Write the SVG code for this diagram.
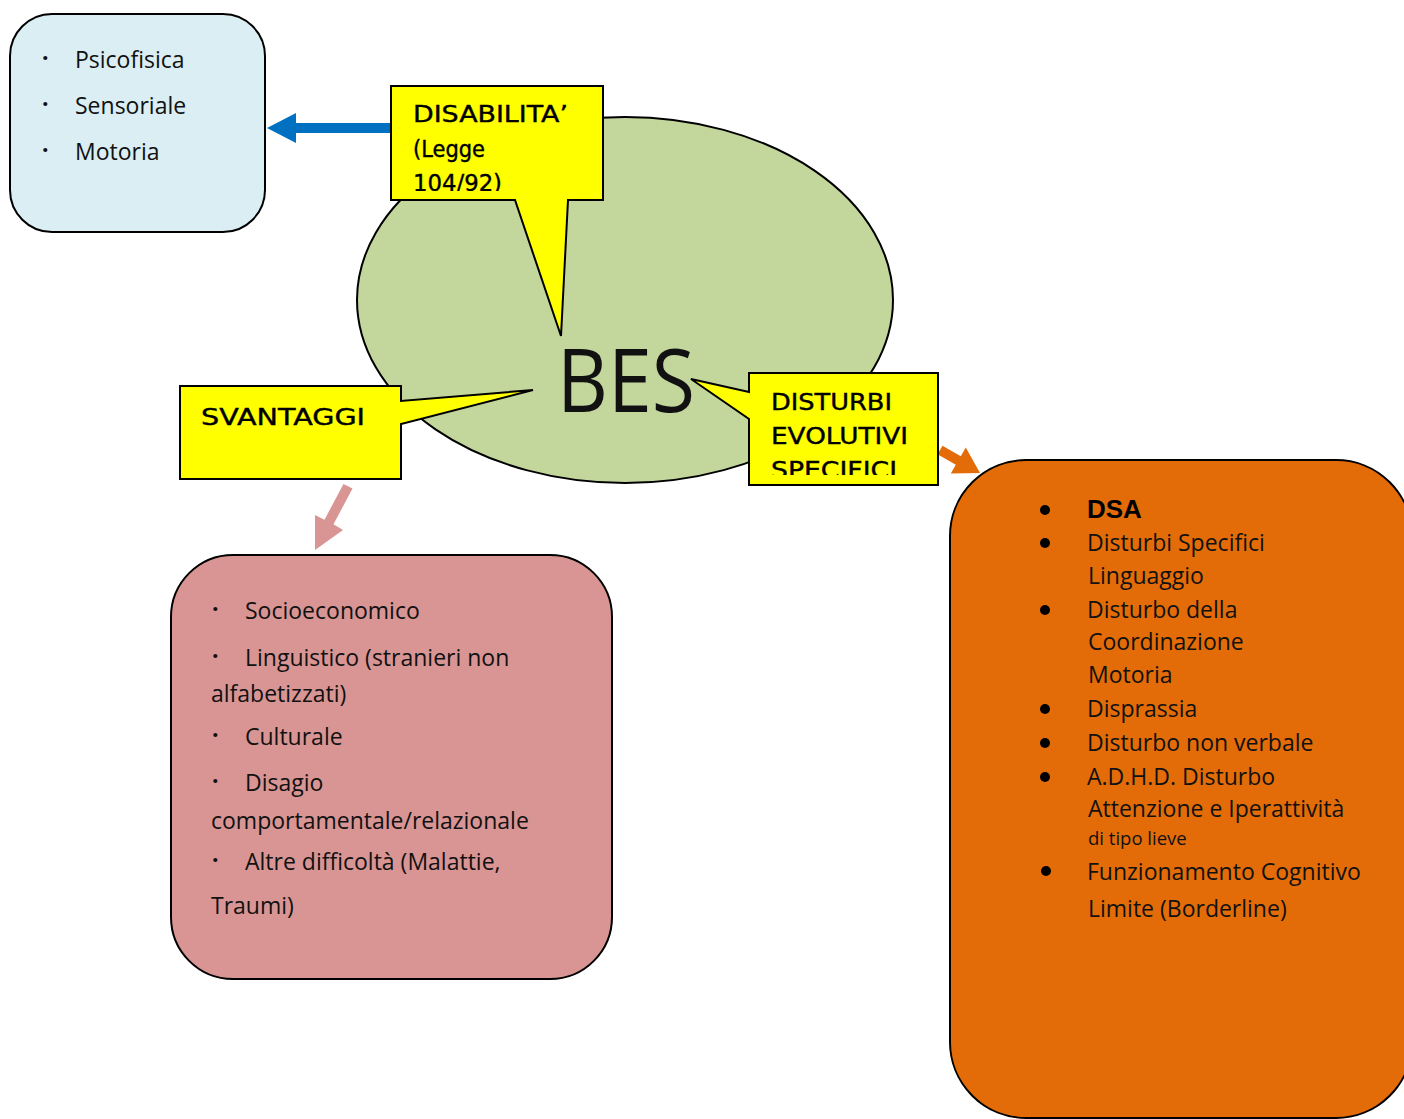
<svg xmlns="http://www.w3.org/2000/svg" width="1404" height="1119" viewBox="0 0 1404 1119">
<style>
.box{stroke:#000;stroke-width:2}
.txt{font-family:"Open Sans","Noto Sans","Liberation Sans",sans-serif;font-size:23px;fill:#111}
.small{font-size:18.5px}
.dot{font-family:"Open Sans","Noto Sans",sans-serif;font-size:23px;font-weight:bold;fill:#111}
.call{font-family:"DejaVu Sans","Liberation Sans",sans-serif;font-size:23px;fill:#000;stroke:#000;stroke-width:0.4}
.cal{fill:#FFFF00;stroke:#000;stroke-width:2;stroke-linejoin:miter}
</style>
<defs>
<clipPath id="clipDis"><rect x="392" y="87" width="210" height="104"/></clipPath>
<clipPath id="clipDse"><rect x="750" y="374" width="187" height="101"/></clipPath>
</defs>
<rect width="1404" height="1119" fill="#fff"/>

<g id="connectors">
<polygon points="391,123 296,123 296,113 267,128 296,143 296,133 391,133" fill="#0070C0"/>
<polygon points="343.5,484 352.5,488.5 333.5,524.3 343,530 315,550 315,515 324.5,519.7" fill="#D99594"/>
<polygon points="942.5,445.7 960.8,456.2 965.8,447.5 980,473 950.8,473.5 955.8,464.8 937.5,454.3" fill="#E36C09"/>
</g>

<g id="node-fisica">
<rect class="box" x="10" y="14" width="255" height="218" rx="42" fill="#DAEEF3"/>
<text class="dot" x="42" y="66">·</text><text class="txt" x="75" y="68">Psicofisica</text>
<text class="dot" x="42" y="112">·</text><text class="txt" x="75" y="114">Sensoriale</text>
<text class="dot" x="42" y="158">·</text><text class="txt" x="75" y="160">Motoria</text>
</g>

<g id="node-bes">
<ellipse cx="625" cy="300" rx="268" ry="183" fill="#C3D69B" stroke="#000" stroke-width="2"/>
<text x="557" y="412" font-family="'Open Sans','Noto Sans',sans-serif" font-size="87" textLength="138" lengthAdjust="spacingAndGlyphs" fill="#111">BES</text>
</g>

<g id="node-disabilita">
<path class="cal" d="M391,86 H603 V200 H568 L561,336 L515,200 H391 Z"/>
<g clip-path="url(#clipDis)">
<text class="call" x="413" y="122" textLength="155" lengthAdjust="spacingAndGlyphs">DISABILITA’</text>
<text class="call" x="413" y="157" textLength="72" lengthAdjust="spacingAndGlyphs">(Legge</text>
<text class="call" x="413" y="191" textLength="89" lengthAdjust="spacingAndGlyphs">104/92)</text>
</g>
</g>

<g id="node-svantaggi">
<path class="cal" d="M180,386 H401 V401 L533,390 L401,424 V479 H180 Z"/>
<text class="call" x="201" y="425" textLength="164" lengthAdjust="spacingAndGlyphs">SVANTAGGI</text>
</g>

<g id="node-dse">
<path class="cal" d="M749,373 H938 V485 H749 V419 L691,379 L749,392 Z"/>
<g clip-path="url(#clipDse)">
<text class="call" x="771" y="410" textLength="121" lengthAdjust="spacingAndGlyphs">DISTURBI</text>
<text class="call" x="771" y="444" textLength="137" lengthAdjust="spacingAndGlyphs">EVOLUTIVI</text>
<text class="call" x="771" y="478" textLength="126" lengthAdjust="spacingAndGlyphs">SPECIFICI</text>
</g>
</g>

<g id="node-svantaggi-list">
<rect class="box" x="171" y="555" width="441" height="424" rx="62" fill="#D99594"/>
<text class="dot" x="212" y="617">·</text><text class="txt" x="245" y="619">Socioeconomico</text>
<text class="dot" x="212" y="664">·</text><text class="txt" x="245" y="666">Linguistico (stranieri non</text>
<text class="txt" x="211" y="702">alfabetizzati)</text>
<text class="dot" x="212" y="743">·</text><text class="txt" x="245" y="745">Culturale</text>
<text class="dot" x="212" y="789">·</text><text class="txt" x="245" y="791">Disagio</text>
<text class="txt" x="211" y="829">comportamentale/relazionale</text>
<text class="dot" x="212" y="868">·</text><text class="txt" x="245" y="870">Altre difficoltà (Malattie,</text>
<text class="txt" x="211" y="914">Traumi)</text>
</g>

<g id="node-dse-list">
<rect class="box" x="950" y="460" width="462" height="658" rx="76" fill="#E36C09"/>
<g fill="#000">
<circle cx="1045" cy="510" r="5"/><circle cx="1045" cy="543" r="5"/><circle cx="1045" cy="610" r="5"/>
<circle cx="1045" cy="709" r="5"/><circle cx="1045" cy="743" r="5"/><circle cx="1045" cy="777" r="5"/>
<circle cx="1046" cy="871" r="5"/>
</g>
<text x="1087" y="518" font-family="'Liberation Sans',Arial,sans-serif" font-weight="bold" font-size="26" fill="#000">DSA</text>
<text class="txt" x="1087" y="551">Disturbi Specifici</text>
<text class="txt" x="1088" y="584">Linguaggio</text>
<text class="txt" x="1087" y="618">Disturbo della</text>
<text class="txt" x="1088" y="650">Coordinazione</text>
<text class="txt" x="1088" y="683">Motoria</text>
<text class="txt" x="1087" y="717">Disprassia</text>
<text class="txt" x="1087" y="751">Disturbo non verbale</text>
<text class="txt" x="1087" y="785">A.D.H.D. Disturbo</text>
<text class="txt" x="1088" y="817">Attenzione e Iperattività</text>
<text class="txt small" x="1088" y="845">di tipo lieve</text>
<text class="txt" x="1087" y="880">Funzionamento Cognitivo</text>
<text class="txt" x="1088" y="917">Limite (Borderline)</text>
</g>
</svg>
